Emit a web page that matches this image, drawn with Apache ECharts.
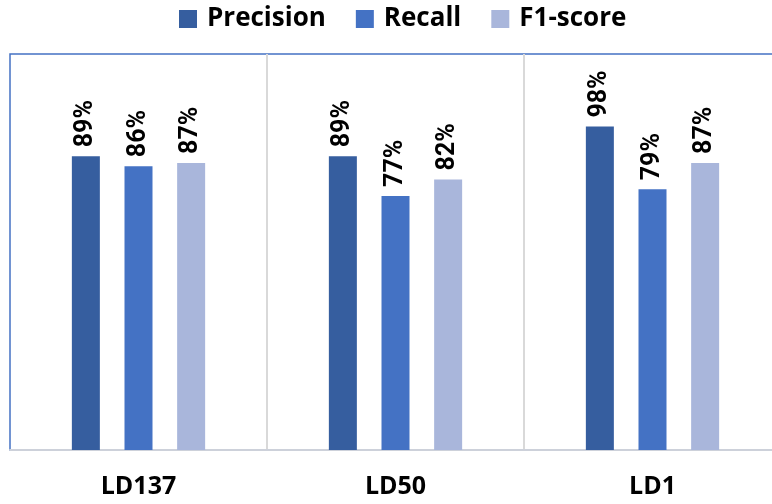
<!DOCTYPE html>
<html>
<head>
<meta charset="utf-8">
<script src="https://cdn.jsdelivr.net/npm/echarts@6/dist/echarts.min.js"></script>
<style>
  html, body { margin: 0; padding: 0; background: #ffffff; }
  #chart { width: 772px; height: 504px; }
</style>
</head>
<body>
<div id="chart"></div>
<script>
// Scores (%) per dataset
const categories = ['LD137', 'LD50', 'LD1'];
const precision = [89, 89, 98];
const recall = [86, 77, 79];
const f1score = [87, 82, 87];
const seriesNames = ['Precision', 'Recall', 'F1-score'];

const colors = ['#365E9F', '#4472C4', '#A9B6DB'];
const labelFont = "Roboto, 'Open Sans', sans-serif";
const textFont = "'Open Sans', 'Noto Sans', sans-serif";

function barSeries(name, data, color) {
  return {
    name: name,
    type: 'bar',
    data: data,
    barWidth: 28,
    barGap: '88%',
    itemStyle: { color: color },
    label: {
      show: true,
      position: 'top',
      rotate: 90,
      align: 'left',
      verticalAlign: 'middle',
      distance: 9,
      formatter: '{c}%',
      fontFamily: labelFont,
      fontWeight: 'bold',
      fontSize: 25,
      color: '#000000'
    }
  };
}

const chart = echarts.init(document.getElementById('chart'), null, { renderer: 'canvas' });
chart.setOption({
  animation: false,
  backgroundColor: '#ffffff',
  legend: {
    left: 174,
    top: 1,
    itemWidth: 18,
    itemHeight: 18,
    itemGap: 30,
    icon: 'rect',
    textStyle: {
      fontFamily: textFont,
      fontWeight: 'bold',
      fontSize: 26,
      color: '#000000',
      padding: [0, 0, 0, 5]
    },
    data: seriesNames
  },
  grid: {
    left: 10,
    top: 54,
    width: 771,
    height: 396,
    show: true,
    borderColor: '#4472C4',
    borderWidth: 1.5,
    containLabel: false,
    outerBoundsMode: 'none'
  },
  xAxis: {
    type: 'category',
    data: categories,
    axisLine: { show: true, lineStyle: { color: '#CDD1DA', width: 2 } },
    axisTick: { show: false },
    splitLine: {
      show: true,
      interval: function (index) { return index > 0; },
      lineStyle: { color: '#D9D9D9', width: 2 }
    },
    axisLabel: {
      margin: 24,
      fontFamily: textFont,
      fontWeight: 'bold',
      fontSize: 25,
      color: '#000000'
    }
  },
  yAxis: {
    type: 'value',
    min: 0,
    max: 120,
    show: false,
    splitLine: { show: false }
  },
  series: [
    barSeries(seriesNames[0], precision, colors[0]),
    barSeries(seriesNames[1], recall, colors[1]),
    barSeries(seriesNames[2], f1score, colors[2])
  ]
});
</script>
</body>
</html>
